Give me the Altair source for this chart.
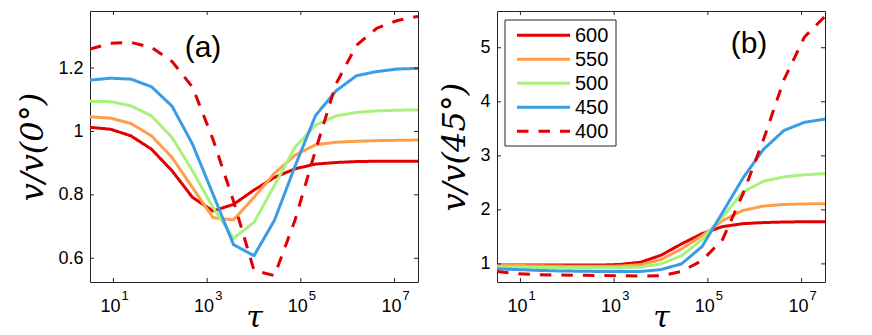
import altair as alt
import pandas as pd

# ---------------- data ----------------
tau = [3.162, 8.66, 23.71, 64.94, 177.8, 486.9, 1334, 3652, 10000, 27384,
       74989, 205353, 562341, 1539927, 4216965, 11547820, 31622777]
series = ["600", "550", "500", "450", "400"]
colors = ["#e00000", "#ff9e4a", "#a8f27c", "#3b9ce6", "#e00000"]

a_600 = [1.013, 1.007, 0.986, 0.944, 0.876, 0.792, 0.749, 0.77, 0.815, 0.855,
         0.882, 0.897, 0.902, 0.905, 0.906, 0.906, 0.906]
a_550 = [1.046, 1.042, 1.025, 0.986, 0.918, 0.823, 0.728, 0.721, 0.792, 0.868,
         0.925, 0.958, 0.966, 0.969, 0.971, 0.972, 0.973]
a_500 = [1.095, 1.094, 1.081, 1.049, 0.981, 0.876, 0.76, 0.663, 0.713, 0.83,
         0.95, 1.02, 1.049, 1.06, 1.065, 1.067, 1.068]
a_450 = [1.162, 1.168, 1.165, 1.141, 1.08, 0.96, 0.802, 0.643, 0.608, 0.72,
         0.89, 1.05, 1.128, 1.176, 1.189, 1.197, 1.199]
a_400 = [1.26, 1.278, 1.281, 1.265, 1.221, 1.14, 0.975, 0.78, 0.562, 0.545,
         0.72, 0.94, 1.15, 1.272, 1.326, 1.35, 1.363]

b_600 = [0.98, 0.98, 0.98, 0.98, 0.978, 0.978, 0.99, 1.03, 1.16, 1.37,
         1.56, 1.69, 1.745, 1.765, 1.775, 1.78, 1.78]
b_550 = [0.975, 0.97, 0.965, 0.96, 0.955, 0.955, 0.96, 0.985, 1.08, 1.28,
         1.52, 1.80, 1.99, 2.07, 2.10, 2.11, 2.115]
b_500 = [0.945, 0.94, 0.935, 0.93, 0.93, 0.93, 0.93, 0.94, 1.0, 1.15,
         1.45, 1.87, 2.33, 2.53, 2.61, 2.65, 2.67]
b_450 = [0.91, 0.895, 0.88, 0.87, 0.865, 0.86, 0.86, 0.86, 0.895, 1.0,
         1.32, 1.95, 2.59, 3.12, 3.47, 3.62, 3.68]
b_400 = [0.86, 0.82, 0.80, 0.795, 0.79, 0.785, 0.78, 0.775, 0.78, 0.86,
         1.06, 1.45, 2.3, 3.3, 4.41, 5.2, 5.58]

x_ticks = [10, 1000, 100000, 10000000]
x_exp = ["1", "3", "5", "7"]
a_yticks = [0.6, 0.8, 1.0, 1.2]
b_yticks = [1, 2, 3, 4, 5]

# ---------------- layout ----------------
W, H = 328, 271
XDOM = [3.1623, 31622777]
SANS = "Liberation Sans"
SERIF = "DejaVu Serif"
TICK = "#222222"


def panel(values, ydom, yticks, ytitle, tag, tagx, tagy, legend=False):
    rows = []
    for s, vals in zip(series, values):
        for i, (t, v) in enumerate(zip(tau, vals)):
            rows.append({"tau": t, "v": v, "series": s, "i": i})
    df = pd.DataFrame(rows)
    xs = alt.Scale(type="log", domain=XDOM, nice=False)
    ys = alt.Scale(domain=ydom, nice=False, zero=False)
    xaxis = alt.Axis(title="τ", labels=False, ticks=False, domain=False, grid=False,
                     titleFont=SERIF, titleFontStyle="italic", titleFontSize=30,
                     titleFontWeight="normal", titlePadding=20, titleColor="black")
    yaxis = alt.Axis(values=yticks, format="~g", ticks=False, domain=False, grid=False,
                     labelFont=SANS, labelFontSize=18, labelColor="black", labelPadding=7,
                     title=ytitle, titleFont=SERIF, titleFontStyle="italic",
                     titleFontSize=32, titleFontWeight="normal", titlePadding=8,
                     titleColor="black")
    layers = []
    for s, c in zip(series, colors):
        dash = [11.5, 10] if s == "400" else [1, 0]
        layers.append(
            alt.Chart(df[df.series == s]).mark_line(strokeWidth=3, clip=True, color=c,
                                                    strokeDash=dash, strokeJoin="round")
            .encode(x=alt.X("tau:Q", scale=xs, axis=xaxis),
                    y=alt.Y("v:Q", scale=ys, axis=yaxis),
                    order="i:Q")
        )
    xt = pd.DataFrame({"tau": x_ticks, "e": x_exp})
    yt = pd.DataFrame({"v": yticks})
    layers += [
        alt.Chart(xt).mark_rule(color=TICK, strokeWidth=1).encode(
            x="tau:Q", y=alt.value(0), y2=alt.value(4)),
        alt.Chart(xt).mark_rule(color=TICK, strokeWidth=1).encode(
            x="tau:Q", y=alt.value(H - 4), y2=alt.value(H)),
        alt.Chart(yt).mark_rule(color=TICK, strokeWidth=1).encode(
            y="v:Q", x=alt.value(0), x2=alt.value(4)),
        alt.Chart(yt).mark_rule(color=TICK, strokeWidth=1).encode(
            y="v:Q", x=alt.value(W - 4), x2=alt.value(W)),
        alt.Chart(xt).mark_text(font=SANS, fontSize=18, align="right", dx=7,
                                baseline="alphabetic", color="black").encode(
            x="tau:Q", y=alt.value(H + 30), text=alt.value("10")),
        alt.Chart(xt).mark_text(font=SANS, fontSize=13, align="left", dx=8,
                                baseline="alphabetic", color="black").encode(
            x="tau:Q", y=alt.value(H + 18), text="e:N"),
        alt.Chart(pd.DataFrame({"s": [tag]})).mark_text(
            font=SANS, fontSize=30, align="center", baseline="middle", color="black").encode(
            x=alt.value(tagx), y=alt.value(tagy), text="s:N"),
    ]
    if legend:
        layers.append(
            alt.Chart(pd.DataFrame({"s": ["box"]})).mark_rect(
                fill="white", stroke="#222222", strokeWidth=1).encode(
                x=alt.value(8), x2=alt.value(119), y=alt.value(9), y2=alt.value(135)))
        for k, (s, c) in enumerate(zip(series, colors)):
            yy = 24.3 + 24 * k
            dash = [11.5, 10] if s == "400" else [1, 0]
            ldf = pd.DataFrame({"s": [s]})
            layers.append(
                alt.Chart(ldf).mark_rule(color=c, strokeWidth=3, strokeDash=dash).encode(
                    x=alt.value(20), x2=alt.value(73), y=alt.value(yy)))
            layers.append(
                alt.Chart(ldf).mark_text(font=SANS, fontSize=20, align="left",
                                         baseline="middle", color="black").encode(
                    x=alt.value(78), y=alt.value(yy + 1), text="s:N"))
    return alt.layer(*layers).properties(width=W, height=H)


pa = panel([a_600, a_550, a_500, a_450, a_400], [0.525, 1.38], a_yticks,
           "v/v(0°)", "(a)", 113, 37)
pb = panel([b_600, b_550, b_500, b_450, b_400], [0.665, 5.68], b_yticks,
           "v/v(45°)", "(b)", 252, 33, legend=True)

chart = (
    alt.hconcat(pa, pb, spacing=19)
    .properties(padding={"left": 8, "top": 2, "right": 0, "bottom": 0})
    .configure_view(stroke="#222222", strokeWidth=1)
)

chart.save("out.html", embed_options={"renderer": "svg", "actions": False})
